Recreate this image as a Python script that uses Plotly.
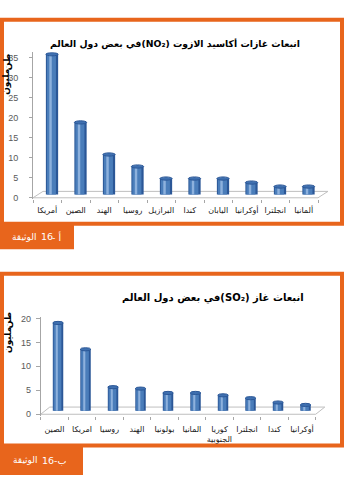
import plotly.graph_objects as go

W, H = 344, 480


def px(x):
    return x / W


def py(y):
    return 1 - y / H


# ---------------- data ----------------
countries_a = ["أمريكا", "الصين", "الهند", "روسيا", "البرازيل", "كندا", "اليابان", "أوكرانيا", "انجلترا", "ألمانيا"]
no2_values = [35, 18, 10, 7, 4, 4, 4, 3, 2, 2]
yticks_a = [0, 5, 10, 15, 20, 25, 30, 35]

countries_b = ["الصين", "امريكا", "روسيا", "الهند", "بولونيا", "المانيا", "كوريا<br>الجنوبية", "انجلترا", "كندا", "أوكرانيا"]
so2_values = [18.3, 12.8, 4.9, 4.6, 3.7, 3.7, 3.2, 2.6, 1.7, 1.2]
yticks_b = [0, 5, 10, 15, 20]

RLE, PDF = "\u202b", "\u202c"
title_a = "انبعاث غازات أكاسيد الازوت (NO₂)في بعض دول العالم"
title_b = "انبعاث غاز (SO₂)في بعض دول العالم"
ytitle_words = ["طن", "مليون"]          # top, bottom
label_word = "الوثيقة"
label_num = "16"
label_a_suffix = "- أ"
label_b_suffix = "-ب"

ORANGE = "#E8651C"
DARK = "#2B5797"
MID = "#4A7DBA"
LIGHT = "#8DB1DD"
AR_FONT = "DejaVu Sans"

fig = go.Figure()
shapes = []


def add_chart(cats, vals, xa, ya, width, shift, rise, cap_h, back_shift):
    base = rise / 2
    n = len(cats)
    shapes.append(dict(
        type="path", xref=xa, yref=ya, layer="below",
        path=f"M -0.5,0 L {n - 0.5},0 L {n - 0.5 + back_shift},{rise} L {-0.5 + back_shift},{rise} Z",
        line=dict(color="#BFBFBF", width=1), fillcolor="rgba(255,255,255,0)"))
    layers = [
        (width, shift - width / 2, DARK),
        (width * 0.74, shift - width * 0.42, MID),
        (width * 0.2, shift - width * 0.22, LIGHT),
    ]
    for w, off, col in layers:
        fig.add_trace(go.Bar(
            x=cats, y=vals, base=base, width=w, offset=off,
            marker=dict(color=col, line=dict(width=0)),
            xaxis=xa, yaxis=ya, showlegend=False, hoverinfo="skip",
            cliponaxis=False))
    for i, v in enumerate(vals):
        top = base + v
        shapes.append(dict(
            type="circle", xref=xa, yref=ya, layer="above",
            x0=i + shift - width / 2, x1=i + shift + width / 2,
            y0=top - cap_h, y1=top + cap_h,
            fillcolor="#3F70B0", line=dict(color=DARK, width=1)))


add_chart(countries_a, no2_values, "x", "y", 0.43, 0.167, 1.6, 0.4, 0.35)
add_chart(countries_b, so2_values, "x2", "y2", 0.38, 0.13, 1.5, 0.33, 0.33)

shapes += [
    dict(type="rect", xref="paper", yref="paper", x0=px(2), x1=px(342), y0=py(17), y1=py(224),
         line=dict(color=ORANGE, width=4), layer="below"),
    dict(type="rect", xref="paper", yref="paper", x0=px(0), x1=px(74), y0=py(224), y1=py(250),
         line=dict(width=0), fillcolor=ORANGE),
    dict(type="rect", xref="paper", yref="paper", x0=px(2), x1=px(342), y0=py(274.7), y1=py(449),
         line=dict(color=ORANGE, width=4), layer="below"),
    dict(type="rect", xref="paper", yref="paper", x0=px(0), x1=px(83), y0=py(449), y1=py(479),
         line=dict(width=0), fillcolor=ORANGE),
]


def ann(text, x, y, size, color="#000000", angle=0, xanchor="center"):
    return dict(text=text, x=px(x), y=py(y), xref="paper", yref="paper", showarrow=False,
                textangle=angle, xanchor=xanchor, yanchor="middle", borderpad=0,
                font=dict(family=AR_FONT, size=size, color=color))


annotations = [
    ann("<b>" + RLE + title_a + PDF + "</b>", 175, 42, 9.3),
    ann("<b>" + RLE + title_b + PDF + "</b>", 213, 299, 10),
    # y-axis titles (rotated)
    ann("<b>" + ytitle_words[0] + "</b>", 7, 60, 9, angle=-90),
    ann("<b>" + ytitle_words[1] + "</b>", 7, 80, 9, angle=-90),
    ann("<b>" + ytitle_words[0] + "</b>", 8, 322, 9, angle=-90),
    ann("<b>" + ytitle_words[1] + "</b>", 8, 342, 9, angle=-90),
    # document labels
    ann(label_word, 11, 237, 9, "#FFFFFF", xanchor="left"),
    ann(label_num, 40, 237, 9.5, "#FFFFFF", xanchor="left"),
    ann(label_a_suffix, 51, 237, 9.5, "#FFFFFF", xanchor="left"),
    ann(label_word, 12, 464, 9, "#FFFFFF", xanchor="left"),
    ann(label_num, 41, 464, 9.5, "#FFFFFF", xanchor="left"),
    ann(label_b_suffix, 53, 464, 9.5, "#FFFFFF", xanchor="left"),
]

xcommon = dict(tickson="boundaries", ticks="outside", ticklen=3, tickcolor="#A6A6A6",
               showline=False, showgrid=False, zeroline=False, tickangle=0,
               tickfont=dict(family=AR_FONT, size=8, color="#1A1A1A"), fixedrange=True)
ycommon = dict(ticks="outside", ticklen=3, tickcolor="#A6A6A6", showline=True, linecolor="#A6A6A6",
               linewidth=1, showgrid=False, zeroline=False,
               tickfont=dict(family="Liberation Sans", size=9, color="#595959"), fixedrange=True)

fig.update_layout(
    width=W, height=H, margin=dict(l=0, r=0, t=0, b=0),
    paper_bgcolor="white", plot_bgcolor="rgba(0,0,0,0)",
    barmode="overlay", showlegend=False,
    xaxis=dict(xcommon, domain=[px(33), px(329.4)], range=[-0.5, 9.9], anchor="y",
               ticklabelstandoff=5),
    yaxis=dict(ycommon, domain=[py(198.9), py(49.96)], range=[-0.3, 36.3], anchor="x",
               tickvals=yticks_a, ticklabelstandoff=9),
    xaxis2=dict(xcommon, domain=[px(40.7), px(326.7)], range=[-0.5, 9.9], anchor="y2",
                ticklabelstandoff=7),
    yaxis2=dict(ycommon, domain=[py(418.8), py(318.6)], range=[-0.3, 20.3], anchor="x2",
                tickvals=yticks_b, ticklen=4, ticklabelstandoff=3),
    shapes=shapes, annotations=annotations,
)

fig.write_html("out.html")
